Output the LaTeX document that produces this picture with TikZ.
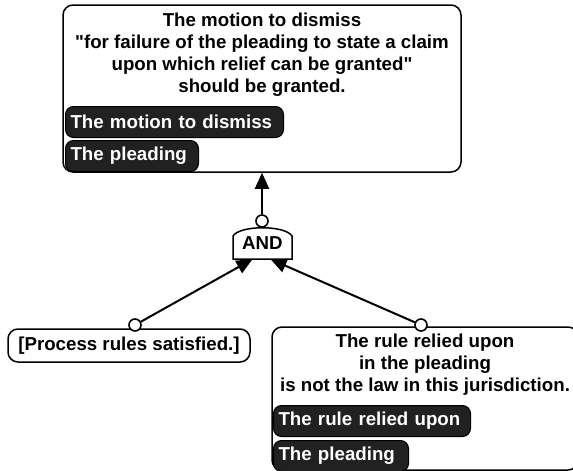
\documentclass[tikz,border=0pt]{standalone}
\usepackage{fontspec}
\setmainfont{Liberation Sans}
\usetikzlibrary{arrows.meta,calc}
\begin{document}
\begin{tikzpicture}[x=1pt,y=-1pt,
  every node/.style={font=\fontsize{18.7}{22}\selectfont\bfseries},
  stmt/.style={draw=black, line width=1.5pt, rounded corners=10pt, fill=white, inner sep=0pt},
  tag/.style={draw=black, line width=1pt, fill=black!87, text=white, rounded corners=8pt,
    anchor=north west, inner xsep=5pt, inner ysep=0pt, minimum height=31pt, align=left},
  port/.style={circle, draw=black, line width=1.6pt, fill=white, minimum size=12pt, inner sep=0pt},
  link/.style={line width=2pt, -{Triangle[length=16pt,width=14pt]}},
]
\useasboundingbox (0,0) rectangle (573,471);
\clip (0,0) rectangle (573,471);

% conclusion
\node[stmt, minimum width=398pt, minimum height=167pt] (claim) at (262,88.5) {};
\node[align=center, inner sep=0pt] (claimtext) at (262,54.5)
  {The motion to dismiss\\\textquotedbl for failure of the pleading to state a claim\\upon which relief can be granted\textquotedbl\\should be granted.};
\node[tag, text width=208pt] (claimtagA) at (65,106) {The motion to dismiss};
\node[tag, text width=123pt] (claimtagB) at (65,140) {The pleading};

% premises
\node[stmt, minimum width=242pt, minimum height=33pt] (proc) at (129,345.5) {[Process rules satisfied.]};
\node[stmt, minimum width=306pt, minimum height=143pt] (rule) at (425,398.5) {};
\node[align=center, inner sep=0pt] (ruletext) at (425,365)
  {The rule relied upon\\in the pleading\\is not the law in this jurisdiction.};
\node[tag, text width=187pt] (ruletagA) at (273,405) {The rule relied upon};
\node[tag, text width=125pt] (ruletagB) at (273,440) {The pleading};

% AND gate
\draw[line width=1.5pt, fill=white] (233,259) -- (233,236)
  .. controls (240,225) and (285,225) .. (292,236) -- (292,259) -- cycle;
\node[minimum width=59pt, minimum height=32pt, inner sep=0pt] (gate) at (262.5,243) {AND};

% ports
\node[port] (out) at (262,221) {};
\node[port] (inL) at (135,325) {};
\node[port] (inR) at (421,325) {};

% connectors
\draw[link] (out) -- (claim.south);
\draw[link] (inL) -- ($(gate.south)+(-10,0)$);
\draw[link] (inR) -- ($(gate.south)+(8,0)$);
\end{tikzpicture}
\end{document}
